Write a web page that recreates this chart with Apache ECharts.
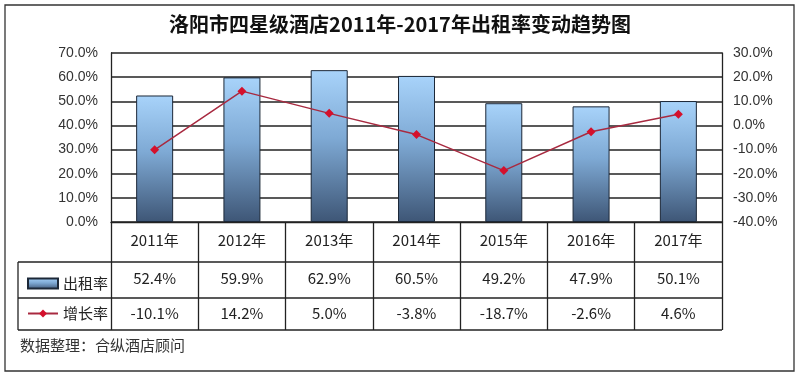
<!DOCTYPE html>
<html>
<head>
<meta charset="utf-8">
<script src="https://cdn.jsdelivr.net/npm/echarts@6/dist/echarts.min.js"></script>
<style>
  html, body { margin: 0; padding: 0; background: #fff; }
  #chart { width: 800px; height: 378px; }
</style>
</head>
<body>
<div id="chart"></div>
<script>
const years = ['2011年', '2012年', '2013年', '2014年', '2015年', '2016年', '2017年'];
const rentRate = [52.4, 59.9, 62.9, 60.5, 49.2, 47.9, 50.1];
const growthRate = [-10.1, 14.2, 5.0, -3.8, -18.7, -2.6, 4.6];
const seriesNames = ['出租率', '增长率'];

const lineColor = '#222';
const cnFont = 'Noto Sans CJK SC';
const fmt = (v) => v.toFixed(1) + '%';

const chart = echarts.init(document.getElementById('chart'));

// bottom axes used as the data table rows (the first axis' ticks draw the column lines)
function tableAxis(data, offset, tickLen, margin) {
    return {
        type: 'category',
        position: 'bottom',
        offset: offset,
        data: data,
        axisLine: { show: offset === 0, lineStyle: { color: lineColor, width: 1.3 } },
        axisTick: { show: tickLen > 0, length: tickLen, lineStyle: { color: lineColor, width: 1.3 } },
        axisLabel: { margin: margin, fontSize: 15, color: '#222', fontFamily: cnFont },
        splitLine: { show: false }
    };
}

function hLine(y, x1, x2) {
    return { type: 'line', shape: { x1: x1, y1: y, x2: x2, y2: y }, style: { stroke: lineColor, lineWidth: 1.3 }, silent: true };
}

const option = {
    backgroundColor: '#fff',
    animation: false,
    title: {
        text: '洛阳市四星级酒店2011年-2017年出租率变动趋势图',
        left: 'center',
        top: 9,
        textStyle: { fontFamily: cnFont, fontWeight: 'bold', fontSize: 20, color: '#111' }
    },
    legend: {
        orient: 'vertical',
        left: 22,
        top: 271,
        itemGap: 15,
        itemWidth: 30,
        itemHeight: 10,
        textStyle: { fontFamily: cnFont, fontSize: 15, color: '#222' },
        data: [{ name: seriesNames[0], icon: 'rect' }, { name: seriesNames[1] }]
    },
    grid: { left: 111, right: 78, top: 53, bottom: 156 },
    xAxis: [
        tableAxis(years, 0, 108, 11),
        tableAxis(rentRate.map(fmt), 40, 0, 9),
        tableAxis(growthRate.map(fmt), 76, 0, 8)
    ],
    yAxis: [
        {
            type: 'value', min: 0, max: 70, interval: 10,
            axisLine: { show: true, lineStyle: { color: lineColor, width: 1.3 } },
            axisTick: { show: false },
            axisLabel: { margin: 13, fontSize: 14, color: '#333', fontFamily: 'Liberation Sans', formatter: (v) => v.toFixed(1) + '%' },
            splitLine: { lineStyle: { color: lineColor, width: 1.5 } }
        },
        {
            type: 'value', min: -40, max: 30, interval: 10,
            axisLine: { show: true, lineStyle: { color: lineColor, width: 1.3 } },
            axisTick: { show: false },
            axisLabel: { margin: 11, fontSize: 14, color: '#333', fontFamily: 'Liberation Sans', formatter: (v) => v.toFixed(1) + '%' },
            splitLine: { show: false }
        }
    ],
    series: [
        {
            name: seriesNames[0],
            type: 'bar',
            barWidth: 37,
            xAxisIndex: 0,
            yAxisIndex: 0,
            data: rentRate,
            itemStyle: {
                borderColor: '#1c2838',
                borderWidth: 1,
                color: new echarts.graphic.LinearGradient(0, 0, 0, 1, [
                    { offset: 0, color: '#a8d3fa' },
                    { offset: 0.45, color: '#7ea9d4' },
                    { offset: 1, color: '#3e5676' }
                ])
            }
        },
        {
            name: seriesNames[1],
            type: 'line',
            xAxisIndex: 0,
            yAxisIndex: 1,
            data: growthRate,
            symbol: 'diamond',
            symbolSize: 9,
            lineStyle: { color: '#a82a40', width: 1.5 },
            itemStyle: { color: '#d4102c' },
            z: 5
        }
    ],
    graphic: [
        // outer frame
        { type: 'rect', shape: { x: 5, y: 5, width: 789, height: 366 }, style: { fill: null, stroke: '#333', lineWidth: 1.3 }, silent: true },
        // table rows and the legend column
        hLine(262, 18, 722),
        hLine(298, 18, 722),
        hLine(330, 18, 722),
        { type: 'line', shape: { x1: 18, y1: 262, x2: 18, y2: 330 }, style: { stroke: lineColor, lineWidth: 1.3 }, silent: true },
        {
            type: 'text', left: 20, top: 338,
            style: { text: '数据整理：合纵酒店顾问', fontFamily: cnFont, fontSize: 15, fill: '#333' }
        }
    ]
};

chart.setOption(option);
</script>
</body>
</html>
